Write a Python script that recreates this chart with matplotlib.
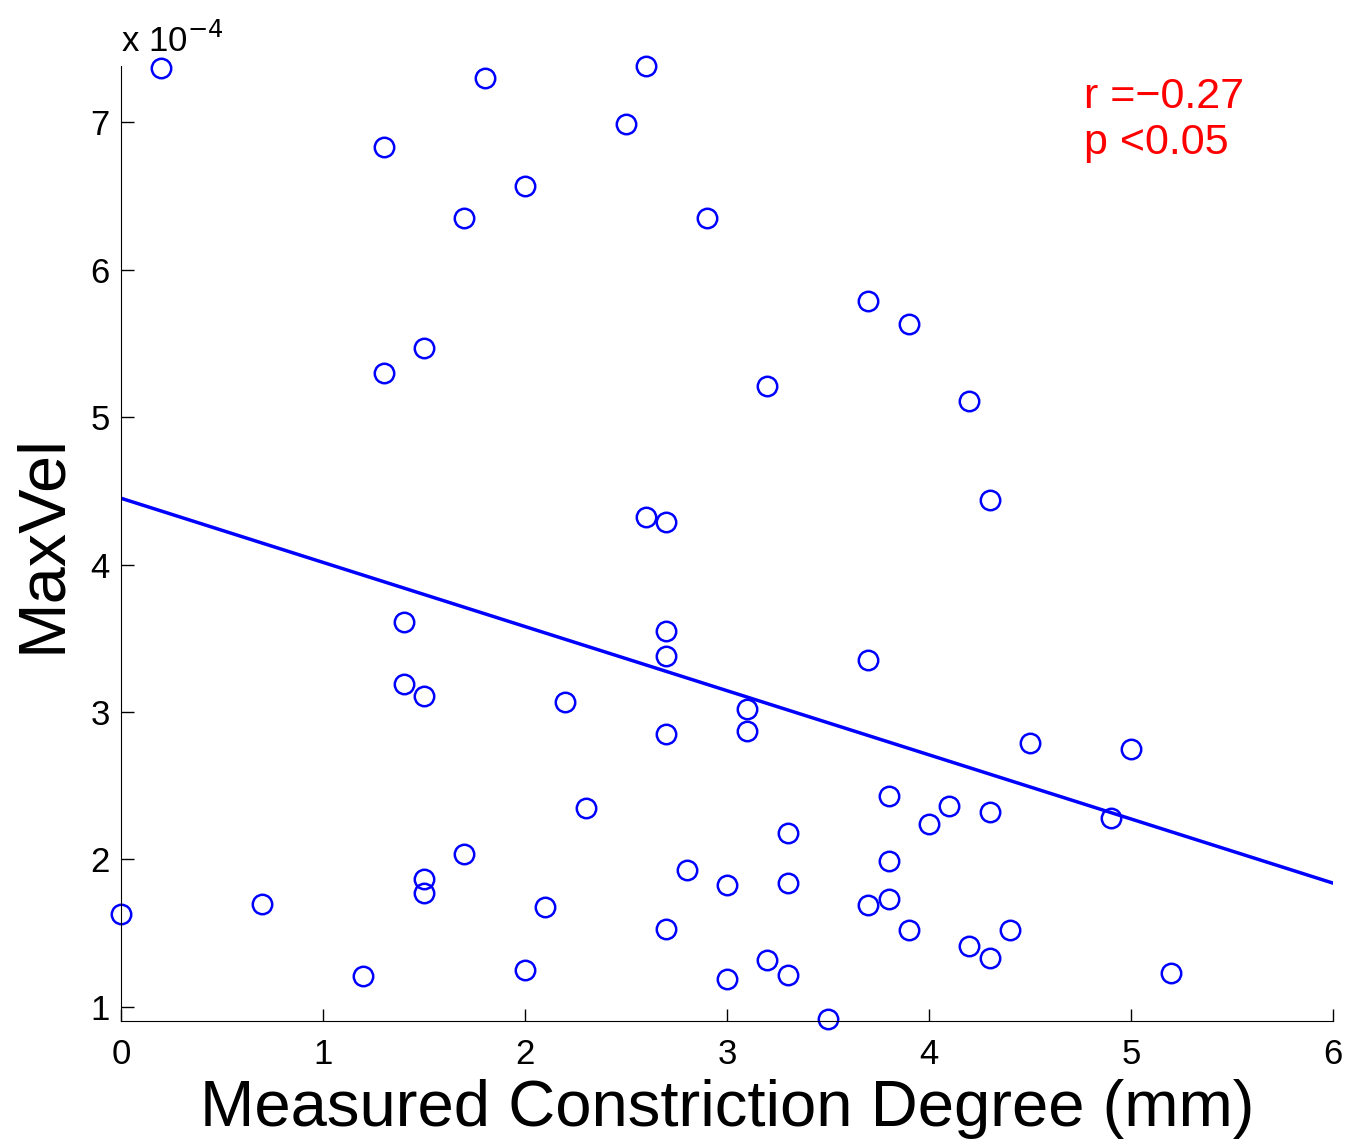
import matplotlib
matplotlib.use('Agg')
import matplotlib.pyplot as plt

plt.rcParams['font.family'] = ['Liberation Sans', 'DejaVu Sans']

# constriction degree (mm) and max velocity (x 1e-4)
degree = [0.0, 0.2, 0.7, 1.2, 1.3, 1.3, 1.4, 1.4, 1.5, 1.5, 1.5, 1.5,
          1.7, 1.7, 1.8, 2.0, 2.0, 2.1, 2.2, 2.3, 2.5, 2.6, 2.6, 2.7,
          2.7, 2.7, 2.7, 2.7, 2.8, 2.9, 3.0, 3.0, 3.1, 3.1, 3.2, 3.2,
          3.3, 3.3, 3.3, 3.5, 3.7, 3.7, 3.7, 3.8, 3.8, 3.8, 3.9, 3.9,
          4.0, 4.1, 4.2, 4.2, 4.3, 4.3, 4.3, 4.4, 4.5, 4.9, 5.0, 5.2]
maxvel = [1.63, 7.37, 1.70, 1.21, 6.83, 5.30, 3.61, 3.19, 5.47, 3.11, 1.87, 1.77,
          6.35, 2.04, 7.30, 6.57, 1.25, 1.68, 3.07, 2.35, 6.99, 7.38, 4.32, 4.29,
          3.55, 3.38, 2.85, 1.53, 1.93, 6.35, 1.83, 1.19, 3.02, 2.87, 5.21, 1.32,
          2.18, 1.84, 1.22, 0.92, 5.79, 3.35, 1.69, 2.43, 1.99, 1.73, 5.63, 1.52,
          2.24, 2.36, 5.11, 1.41, 4.44, 2.32, 1.33, 1.52, 2.79, 2.28, 2.75, 1.23]

# regression line end points
fit_x = [0, 6]
fit_y = [4.45, 1.84]

fig = plt.figure(figsize=(13.51, 11.42), dpi=100)
ax = fig.add_axes([0.0896, 0.106, 0.897, 0.836])

ax.plot(degree, maxvel, 'o', mfc='none', mec='blue', ms=14, mew=1.8, clip_on=False)
ax.plot(fit_x, fit_y, color='blue', lw=2.5)

ax.set_xlim(0, 6)
ax.set_ylim(0.905, 7.38)
ax.set_xticks(range(0, 7))
ax.set_yticks(range(1, 8))
ax.tick_params(direction='in', length=9, width=1, labelsize=25)
ax.tick_params(axis='x', pad=12)
ax.tick_params(axis='y', pad=8)
for s in ['top', 'right']:
    ax.spines[s].set_visible(False)

ax.set_xlabel('Measured Constriction Degree (mm)', fontsize=47, labelpad=6)
ax.set_ylabel('MaxVel', fontsize=48, labelpad=12)

ax.annotate(r'x 10$^{-4}$', xy=(0, 1), xycoords='axes fraction',
            xytext=(0, 14), textcoords='offset pixels', fontsize=25,
            ha='left', va='baseline')
ax.text(0.795, 0.944, 'r =\u22120.27\np <0.05', transform=ax.transAxes,
        fontsize=31, color='red', ha='left', va='center', linespacing=1.2)

fig.savefig('out.png', dpi=100)
